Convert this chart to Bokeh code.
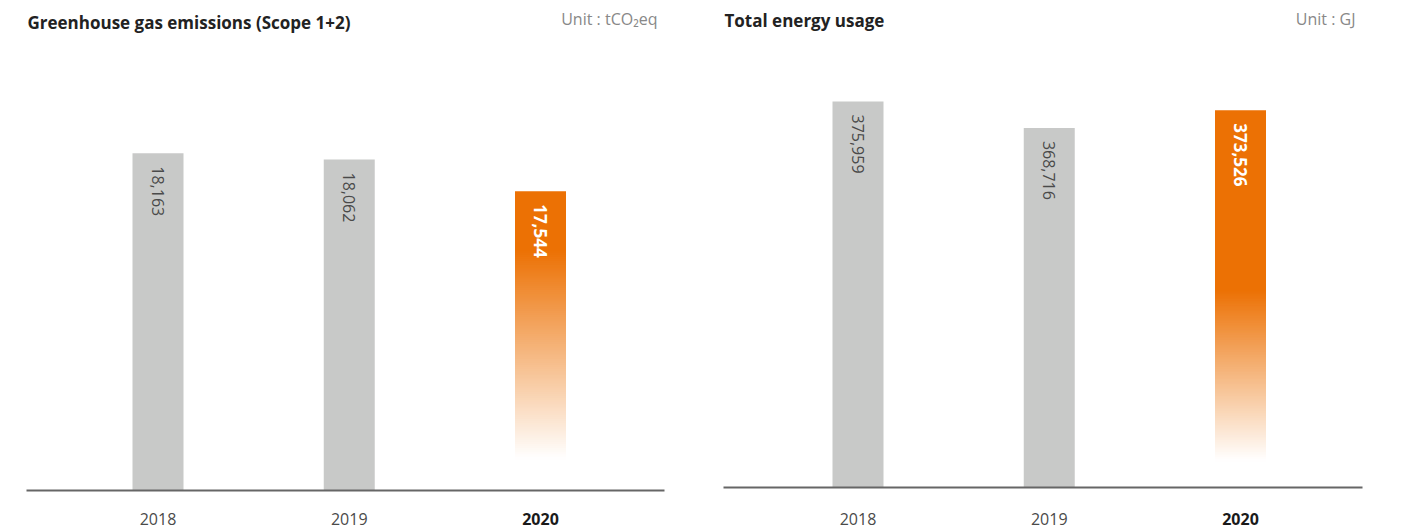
import math
from bokeh.plotting import figure
from bokeh.layouts import row
from bokeh.models import ColumnDataSource, Range1d
from bokeh.core.properties import value
from bokeh.embed import file_html
from bokeh.resources import INLINE

# ---- data ----
years = ["2018", "2019", "2020"]
ghg_values = [18163, 18062, 17544]
energy_values = [375959, 368716, 373526]
ghg_title = "Greenhouse gas emissions (Scope 1+2)"
ghg_unit = "Unit : tCO\u2082eq"
energy_title = "Total energy usage"
energy_unit = "Unit : GJ"
highlight_year = "2020"

GRAY = "#c8c9c8"
ORANGE = (236, 113, 4)
FONT = "Open Sans"
FIG_H = 528


def blend(t):
    # t=1 -> orange, t=0 -> white
    r, g, b = (round(255 + (c - 255) * t) for c in ORANGE)
    return f"#{r:02x}{g:02x}{b:02x}"


def make_panel(title, unit, cats, vals, base_value, units_per_px, base_y,
               first_x, spacing, fig_left, fig_width, line_x0, line_x1,
               fade_top_y, fade_end_y, title_x, title_y, unit_x, unit_y):
    def yd(py):
        return base_value + (base_y - py) * units_per_px

    def xd(px):
        return (px - first_x) / spacing

    p = figure(width=fig_width, height=FIG_H, output_backend="svg",
               toolbar_location=None, x_axis_location=None, y_axis_location=None,
               x_range=Range1d(xd(fig_left), xd(fig_left + fig_width)),
               y_range=Range1d(yd(FIG_H), yd(0)),
               min_border=0, outline_line_color=None,
               background_fill_color="white", border_fill_color="white")
    p.xgrid.visible = False
    p.ygrid.visible = False

    bar_w = 51 / spacing
    xs = list(range(len(cats)))
    gray_x = [i for i, c in zip(xs, cats) if c != highlight_year]
    gray_v = [v for v, c in zip(vals, cats) if c != highlight_year]
    p.vbar(x=gray_x, top=gray_v, bottom=base_value, width=bar_w,
           fill_color=GRAY, line_color=None)

    # highlighted bar with gradient fade to white
    hi = cats.index(highlight_year)
    hv = vals[hi]
    ft = min(yd(fade_top_y), hv)
    fe = yd(fade_end_y)
    p.vbar(x=[hi], top=[hv], bottom=[ft - units_per_px], width=bar_w,
           fill_color=blend(1.0), line_color=None)
    n = 100
    step = (ft - fe) / n
    tops, bots, cols = [], [], []
    for k in range(n):
        tops.append(ft - step * k)
        bots.append(ft - step * (k + 1) - units_per_px)  # 1px overlap to avoid seams
        cols.append(blend(1 - (k + 0.5) / n))
    p.vbar(x=[hi] * n, top=tops, bottom=bots, width=bar_w,
           fill_color=cols, line_color=None)

    # baseline
    p.segment(x0=[xd(line_x0)], x1=[xd(line_x1)], y0=[base_value], y1=[base_value],
              line_color="#666666", line_width=2)

    # value labels
    lab = ColumnDataSource(dict(
        x=xs,
        y=[v - 13 * units_per_px for v in vals],
        t=[f"{v:,}" for v in vals],
        c=["white" if c == highlight_year else "#4a4a4a" for c in cats],
        s=["bold" if c == highlight_year else "normal" for c in cats],
        f=["17px" if c == highlight_year else "16px" for c in cats],
    ))
    p.text(x="x", y="y", text="t", source=lab, angle=-math.pi / 2,
           text_align="left", text_baseline="middle", text_color="c",
           text_font_style="s", text_font_size="f", text_font=value(FONT))

    # year labels
    yl = ColumnDataSource(dict(
        x=xs, y=[yd(518)] * len(cats), t=cats,
        c=["#1a1a1a" if c == highlight_year else "#4a4a4a" for c in cats],
        s=["bold" if c == highlight_year else "normal" for c in cats],
    ))
    p.text(x="x", y="y", text="t", source=yl, text_align="center",
           text_baseline="middle", text_color="c", text_font_style="s",
           text_font_size="16px", text_font=value(FONT))

    # title & unit
    p.text(x=[xd(title_x)], y=[yd(title_y)], text=[title], text_align="left",
           text_baseline="middle", text_color="#222222", text_font_style="bold",
           text_font_size="17px", text_font=value(FONT))
    p.text(x=[xd(unit_x)], y=[yd(unit_y)], text=[unit], text_align="right",
           text_baseline="middle", text_color="#888888",
           text_font_size="16px", text_font=value(FONT))
    return p


p1 = make_panel(ghg_title, ghg_unit, years, ghg_values,
                base_value=12650, units_per_px=16.35, base_y=490,
                first_x=157.5, spacing=191.25, fig_left=0, fig_width=690,
                line_x0=26, line_x1=664, fade_top_y=250, fade_end_y=458,
                title_x=27, title_y=22, unit_x=657, unit_y=18)
p2 = make_panel(energy_title, energy_unit, years, energy_values,
                base_value=270000, units_per_px=274.5, base_y=487,
                first_x=857.5, spacing=191.25, fig_left=690, fig_width=699,
                line_x0=723, line_x1=1362, fade_top_y=290, fade_end_y=460,
                title_x=724, title_y=20, unit_x=1355, unit_y=18)

layout = row(p1, p2)
open("out.html", "w").write(file_html(layout, INLINE))
